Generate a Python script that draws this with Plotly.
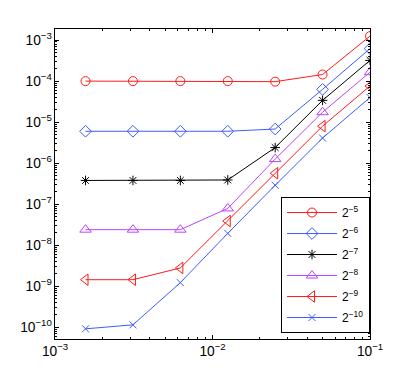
import plotly.graph_objects as go

h = [1.5625e-3, 3.125e-3, 6.25e-3, 1.25e-2, 2.5e-2, 5e-2, 1e-1]
names = ["2<sup>\u22125</sup>", "2<sup>\u22126</sup>", "2<sup>\u22127</sup>",
         "2<sup>\u22128</sup>", "2<sup>\u22129</sup>", "2<sup>\u221210</sup>"]

err5 = [1.0e-4, 1.0e-4, 1.0e-4, 1.0e-4, 9.7e-5, 1.45e-4, 1.25e-3]
err6 = [6.0e-6, 6.0e-6, 6.0e-6, 6.0e-6, 6.8e-6, 6.3e-5, 6.2e-4]
err7 = [3.8e-7, 3.8e-7, 3.8e-7, 3.9e-7, 2.4e-6, 3.4e-5, 3.2e-4]
err8 = [2.4e-8, 2.4e-8, 2.4e-8, 7.9e-8, 1.26e-6, 1.75e-5, 1.65e-4]
err9 = [1.45e-9, 1.45e-9, 2.8e-9, 3.9e-8, 5.7e-7, 8.0e-6, 7.6e-5]
err10 = [9.2e-11, 1.15e-10, 1.23e-9, 1.95e-8, 2.9e-7, 4.1e-6, 4.0e-5]

series = [err5, err6, err7, err8, err9, err10]
colors = ["#ff1a1a", "#3d5cff", "#000000", "#bb44ff", "#ff1a1a", "#3d5cff"]
symbols = ["circle-open", "diamond-open", "asterisk-open", "triangle-up-open",
           "triangle-left-open", "x-thin-open"]
sizes = [9, 9, 8, 10, 10, 7]

fig = go.Figure()
for i, (name, y, c, s, sz) in enumerate(zip(names, series, colors, symbols, sizes)):
    fig.add_trace(go.Scatter(x=h, y=y, name=name, mode="lines+markers",
                             legendgroup=str(i),
                             line=dict(color=c, width=1),
                             marker=dict(symbol=s, size=sz, color=c,
                                         line=dict(color=c, width=1))))

axis = dict(type="log", dtick=1, exponentformat="power", showgrid=False,
            zeroline=False, showline=True, linecolor="black", linewidth=1,
            mirror="ticks", ticks="inside", ticklen=4, tickcolor="black",
            minor=dict(ticks="inside", ticklen=2, tickcolor="black", showgrid=False),
            tickfont=dict(family="Liberation Sans, Arial", size=11, color="black"))

fig.update_xaxes(axis, range=[-3, -1])
fig.update_yaxes(axis, range=[-10.284, -2.73])

# page body adds 8px, so the figure is a bit smaller than the window
fig.update_layout(
    width=393, height=366,
    margin=dict(l=45, r=31, t=21, b=35),
    plot_bgcolor="white", paper_bgcolor="white",
    showlegend=True,
    legend=dict(x=1.0, y=0.458, xanchor="right", yanchor="top",
                bordercolor="black", borderwidth=1, bgcolor="white",
                font=dict(family="Liberation Sans, Arial", size=12, color="black"),
                tracegroupgap=2, itemwidth=50),
)

fig.write_html("out.html")
